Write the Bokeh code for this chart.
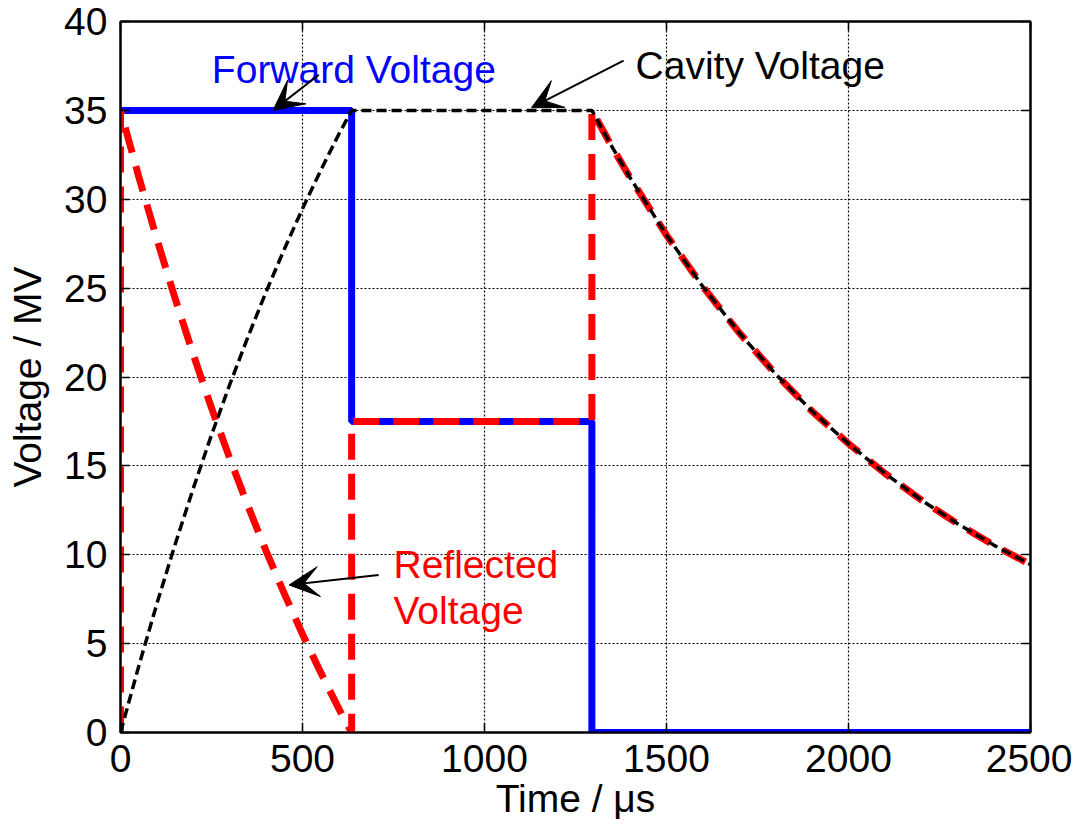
from bokeh.plotting import figure
from bokeh.models import (Range1d, LinearAxis, SingleIntervalTicker, Label, Arrow, VeeHead)
from bokeh.embed import file_html
from bokeh.resources import INLINE

# ---- data ----
fwd_t = [0, 635, 635, 1295, 1295, 2500]
fwd_v = [35, 35, 17.5, 17.5, 0, 0]

cav_t = [0, 50, 100, 150, 200, 250, 300, 350, 400, 450, 500, 550, 600, 635,
         1295, 1350, 1400, 1500, 1600, 1700, 1800, 1900, 2000, 2100, 2200, 2300, 2400, 2500]
cav_v = [0, 3.72, 7.25, 10.58, 13.74, 16.74, 19.57, 22.25, 24.79, 27.19, 29.47, 31.62, 33.67, 35,
         35, 32.96, 31.21, 27.98, 25.08, 22.48, 20.16, 18.07, 16.25, 14.58, 13.08, 11.74, 10.53, 9.45]

ref_t = [0, 0, 50, 100, 150, 200, 250, 300, 350, 400, 450, 500, 550, 600, 635,
         635, 1295, 1295, 1350, 1400, 1500, 1600, 1700, 1800, 1900, 2000, 2100, 2200, 2300, 2400, 2500]
ref_v = [0, 35, 31.28, 27.75, 24.42, 21.26, 18.26, 15.43, 12.75, 10.21, 7.81, 5.53, 3.38, 1.33, 0,
         17.5, 17.5, 35, 32.96, 31.21, 27.98, 25.08, 22.48, 20.16, 18.07, 16.25, 14.58, 13.08, 11.74, 10.53, 9.45]

x_ticks_interval = 500
y_ticks_interval = 5

FONT = "Liberation Sans"
FS = "39px"

p = figure(width=1072, height=822, output_backend="svg", toolbar_location=None,
           x_range=Range1d(0, 2500), y_range=Range1d(0, 40),
           min_border_left=120, min_border_right=42, min_border_top=21, min_border_bottom=89)

p.outline_line_color = "black"
p.outline_line_width = 2
p.background_fill_color = "white"
p.border_fill_color = "white"

xt = SingleIntervalTicker(interval=x_ticks_interval)
yt = SingleIntervalTicker(interval=y_ticks_interval)

for ax in (p.xaxis[0], p.yaxis[0]):
    ax.major_tick_in = 9
    ax.major_tick_out = 0
    ax.minor_tick_in = 0
    ax.minor_tick_out = 0
    ax.axis_line_width = 2
    ax.major_tick_line_width = 1.5
    ax.major_label_text_font = FONT
    ax.major_label_text_font_size = FS
    ax.major_label_text_color = "black"
    ax.axis_label_text_font = FONT
    ax.axis_label_text_font_size = FS
    ax.axis_label_text_font_style = "normal"
    ax.axis_label_text_color = "black"

p.xaxis[0].ticker = xt
p.yaxis[0].ticker = yt
p.xaxis[0].axis_label = "Time / μs"
p.yaxis[0].axis_label = "Voltage / MV"
p.xaxis[0].major_label_standoff = 12
p.xaxis[0].axis_label_standoff = 2
p.yaxis[0].major_label_standoff = 13
p.yaxis[0].axis_label_standoff = 12

for loc, tk in (("right", yt), ("above", xt)):
    ax = LinearAxis(ticker=tk)
    ax.major_tick_in = 9
    ax.major_tick_out = 0
    ax.minor_tick_in = 0
    ax.minor_tick_out = 0
    ax.axis_line_width = 2
    ax.major_tick_line_width = 1.5
    ax.major_label_text_font_size = "1px"
    ax.major_label_text_color = None
    ax.major_label_text_alpha = 0
    ax.major_label_standoff = 0
    p.add_layout(ax, loc)

p.xgrid.ticker = xt
p.ygrid.ticker = yt
for g in (p.xgrid[0], p.ygrid[0]):
    g.grid_line_color = "black"
    g.grid_line_width = 1.2
    g.grid_line_dash = "2 2"
    g.grid_line_alpha = 1.0

p.line(fwd_t, fwd_v, line_color="#0000ff", line_width=7)
p.line(ref_t, ref_v, line_color="#ff0000", line_width=7, line_dash="26 14")
p.line(cav_t, cav_v, line_color="black", line_width=3.5, line_dash="10 5")

# annotations
p.add_layout(Label(x=251, y=37.32, text="Forward Voltage", text_color="#0000ff",
                   text_font=FONT, text_font_size=FS, text_baseline="alphabetic"))
p.add_layout(Label(x=1415, y=37.55, text="Cavity Voltage", text_color="black",
                   text_font=FONT, text_font_size=FS, text_baseline="alphabetic"))
p.add_layout(Label(x=750, y=9.43, text="Reflected", text_color="#ff0000",
                   text_font=FONT, text_font_size=FS, text_baseline="alphabetic"))
p.add_layout(Label(x=750, y=6.86, text="Voltage", text_color="#ff0000",
                   text_font=FONT, text_font_size=FS, text_baseline="alphabetic"))

def arrow(x0, y0, x1, y1):
    p.add_layout(Arrow(end=VeeHead(size=30, fill_color="black", line_color="black"),
                       x_start=x0, y_start=y0, x_end=x1, y_end=y1,
                       line_color="black", line_width=2))

arrow(545, 37.0, 419, 35.0)
arrow(1382, 37.8, 1129, 35.15)
arrow(709, 8.86, 463, 8.3)

open("out.html", "w").write(file_html(p, INLINE))
